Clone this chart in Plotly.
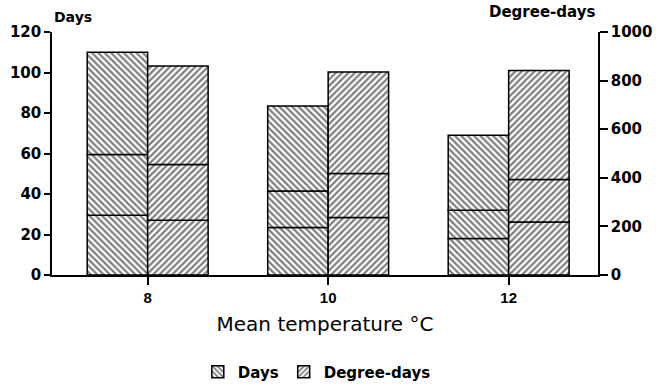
import plotly.graph_objects as go

temps = [8, 10, 12]
tick_labels = ["8", "10", "12"]

# cumulative levels of stacked segments
days_low = [29.5, 23.5, 18]
days_mid = [59.5, 41.5, 32]
days_total = [110, 83.5, 69]

deg_low = [225, 237, 218]
deg_mid = [455, 418, 393]
deg_total = [860, 835, 842]

BW = 0.67
FONT = "Liberation Sans"
BOLD = "DejaVu Sans"

fig = go.Figure()


def add_stack(levels, name, shape, yaxis, offset):
    bases = [[0] * len(temps)] + levels[:-1]
    for i, (lvl, base) in enumerate(zip(levels, bases)):
        fig.add_trace(go.Bar(
            x=temps,
            y=[a - b for a, b in zip(lvl, base)],
            base=base,
            width=BW,
            offset=offset,
            yaxis=yaxis,
            name=name,
            legendgroup=name,
            showlegend=(i == 0),
            marker=dict(color="white",
                        line=dict(color="black", width=1.5),
                        pattern=dict(shape=shape, fgcolor="black", bgcolor="white",
                                     size=4.5, solidity=0.5)),
        ))


add_stack([days_low, days_mid, days_total], "Days", "\\", "y", -BW)
add_stack([deg_low, deg_mid, deg_total], "Degree-days", "/", "y2", 0)

fig.update_layout(
    width=658, height=385,
    margin=dict(l=52, r=60, t=32, b=110, autoexpand=False),
    plot_bgcolor="white", paper_bgcolor="white",
    barmode="overlay",
    font=dict(family=FONT, color="black"),
    xaxis=dict(range=[6.94, 12.99], tickvals=temps, ticktext=tick_labels,
               automargin=False,
               showline=True, linecolor="black", linewidth=2,
               ticks="outside", ticklen=8, tickwidth=1.5, tickcolor="black",
               showgrid=False, zeroline=False,
               tickfont=dict(size=15, weight="bold", family=FONT),
               title=dict(text="Mean temperature °C", font=dict(size=20, family="DejaVu Sans"),
                          standoff=12)),
    yaxis=dict(range=[0, 120], tickvals=[0, 20, 40, 60, 80, 100, 120],
               automargin=False,
               showline=True, linecolor="black", linewidth=1.5,
               ticks="outside", ticklen=6, tickwidth=1.5, tickcolor="black",
               showgrid=False, zeroline=False,
               tickfont=dict(size=15, weight="bold", family=BOLD)),
    yaxis2=dict(range=[0, 1000], tickvals=[0, 200, 400, 600, 800, 1000],
                automargin=False,
                overlaying="y", side="right",
                showline=True, linecolor="black", linewidth=1.5,
                ticks="outside", ticklen=8, tickwidth=1.5, tickcolor="black",
                showgrid=False, zeroline=False,
                tickfont=dict(size=15, weight="bold", family=BOLD)),
    legend=dict(orientation="h", x=0.485, xanchor="center",
                yref="container", y=0.034, yanchor="middle",
                font=dict(size=15, weight="bold", family=BOLD),
                tracegroupgap=0),
    annotations=[
        dict(text="<b>Days</b>", xref="paper", yref="paper", x=0, y=1.02,
             xanchor="left", yanchor="bottom", showarrow=False,
             font=dict(size=14, family=BOLD)),
        dict(text="<b>Degree-days</b>", xref="paper", yref="paper", x=1.0, y=1.035,
             xanchor="right", yanchor="bottom", showarrow=False,
             font=dict(size=15, family=BOLD)),
    ],
)

fig.write_html("out.html", config={"displayModeBar": False},
               post_script="document.body.style.margin='0';")
